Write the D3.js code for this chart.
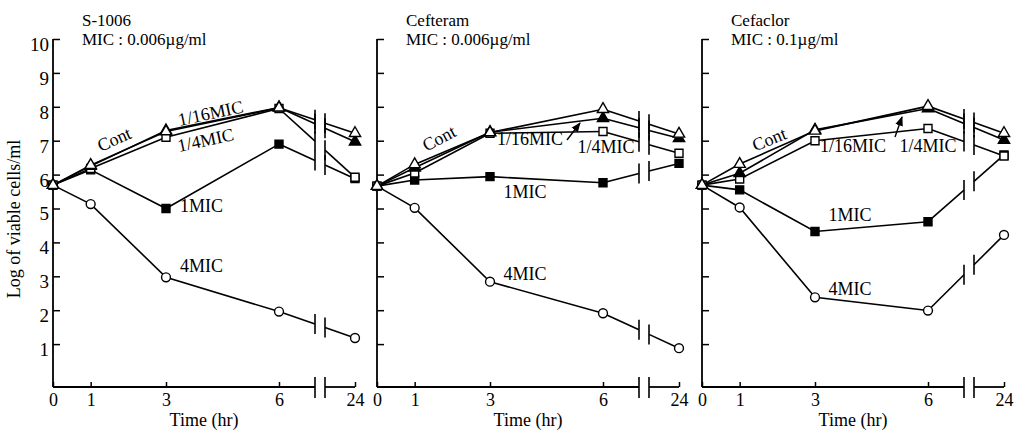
<!DOCTYPE html>
<html>
<head>
<meta charset="utf-8">
<script src="https://cdn.jsdelivr.net/npm/d3@7"></script>
<style>
  body { margin: 0; background: #fff; }
  text { font-family: "Liberation Serif", "Times New Roman", serif; }
</style>
</head>
<body>
<script>
// time points (hr) and y ticks
var hours = [0, 1, 3, 6, 24];
var yTicks = [1, 2, 3, 4, 5, 6, 7, 8, 9, 10];
var seriesNames = ["Cont", "1/16MIC", "1/4MIC", "1MIC", "4MIC"];

// S-1006
var s1006Cont  = [5.69, 6.28, 7.27, 7.97, 7.22];
var s1006Q16   = [5.69, 6.25, 7.30, 7.98, 6.97];
var s1006Q4    = [5.69, 6.18, 7.10, 7.95, 5.92];
var s1006One   = [5.69, 6.14, 5.00, 6.90, 5.88];
var s1006Four  = [5.69, 5.13, 2.97, 1.96, 1.18];

// Cefteram
var cefteramCont = [5.66, 6.30, 7.24, 7.93, 7.20];
var cefteramQ16  = [5.66, 6.20, 7.25, 7.66, 7.07];
var cefteramQ4   = [5.66, 6.05, 7.22, 7.27, 6.63];
var cefteramOne  = [5.66, 5.84, 5.94, 5.76, 6.33];
var cefteramFour = [5.66, 5.02, 2.84, 1.91, 0.88];

// Cefaclor
var cefaclorCont = [5.69, 6.31, 7.29, 8.02, 7.22];
var cefaclorQ16  = [5.69, 6.04, 7.32, 7.95, 7.02];
var cefaclorQ4   = [5.69, 5.87, 7.00, 7.36, 6.55];
var cefaclorOne  = [5.69, 5.55, 4.32, 4.61, 6.58];
var cefaclorFour = [5.69, 5.03, 2.38, 1.99, 4.22];

var panels = [
  {title: "S-1006", mic: "MIC : 0.006\u00b5g/ml", ox: 53,
   data: [s1006Cont, s1006Q16, s1006Q4, s1006One, s1006Four],
   labels: [
     {t: "Cont", x: 62, y: 141, r: -24, a: "middle"},
     {t: "1/16MIC", x: 158, y: 115, r: -12, a: "middle"},
     {t: "1/4MIC", x: 153, y: 142, r: -12, a: "middle"},
     {t: "1MIC", x: 127, y: 208, r: 0, a: "start"},
     {t: "4MIC", x: 127, y: 268, r: 0, a: "start"}
   ], arrow: null},
  {title: "Cefteram", mic: "MIC : 0.006\u00b5g/ml", ox: 377,
   data: [cefteramCont, cefteramQ16, cefteramQ4, cefteramOne, cefteramFour],
   labels: [
     {t: "Cont", x: 63, y: 140, r: -28, a: "middle"},
     {t: "1/16MIC", x: 153, y: 141, r: 0, a: "middle"},
     {t: "1/4MIC", x: 229, y: 149, r: 0, a: "middle"},
     {t: "1MIC", x: 148, y: 194, r: 0, a: "middle"},
     {t: "4MIC", x: 148, y: 276, r: 0, a: "middle"}
   ], arrow: [190, 140, 203, 123]},
  {title: "Cefaclor", mic: "MIC : 0.1\u00b5g/ml", ox: 702,
   data: [cefaclorCont, cefaclorQ16, cefaclorQ4, cefaclorOne, cefaclorFour],
   labels: [
     {t: "Cont", x: 68, y: 141, r: -22, a: "middle"},
     {t: "1/16MIC", x: 151, y: 148, r: 0, a: "middle"},
     {t: "1/4MIC", x: 226, y: 148, r: 0, a: "middle"},
     {t: "1MIC", x: 148, y: 217, r: 0, a: "middle"},
     {t: "4MIC", x: 148, y: 291, r: 0, a: "middle"}
   ], arrow: [193, 137, 200, 117]}
];

var width = 1023, height = 434;
var yBottom = 387;
var breakL = 262, breakR = 272;

var svg = d3.select("body").append("svg")
  .attr("width", width)
  .attr("height", height);

svg.append("defs").append("marker")
  .attr("id", "arrowhead")
  .attr("viewBox", "0 0 10 10")
  .attr("refX", 9).attr("refY", 5)
  .attr("markerWidth", 7).attr("markerHeight", 7)
  .attr("orient", "auto")
  .append("path").attr("d", "M0,1L10,5L0,9Z").attr("fill", "#000");

var y = d3.scaleLinear().domain([0, 10]).range([378, 39]);
var x = d3.scaleLinear().domain([0, 6, 24]).range([0, 226, 302]);

// marker shape per series: Cont open tri, 1/16 filled tri, 1/4 open sq, 1MIC filled sq, 4MIC open circle
var shapes = [
  {type: d3.symbolTriangle, size: 55, fill: "#fff"},
  {type: d3.symbolTriangle, size: 55, fill: "#000"},
  {type: d3.symbolSquare, size: 64, fill: "#fff"},
  {type: d3.symbolSquare, size: 64, fill: "#000"},
  {type: d3.symbolCircle, size: 62, fill: "#fff"}
];

// y axis title
svg.append("text")
  .attr("transform", "translate(16,219) rotate(-90)")
  .attr("text-anchor", "middle")
  .attr("dominant-baseline", "middle")
  .attr("font-size", 18)
  .text("Log of viable cells/ml");

panels.forEach(function(p, i) {
  var g = svg.append("g").attr("transform", "translate(" + p.ox + ",0)");

  g.append("text").attr("x", 29).attr("y", 26).attr("font-size", 17).text(p.title);
  g.append("text").attr("x", 29).attr("y", 45).attr("font-size", 17).text(p.mic);

  // y axis
  var ya = g.append("g")
    .call(d3.axisLeft(y).tickValues(yTicks).tickSize(-7).tickSizeOuter(0).tickPadding(4)
      .tickFormat(i === 0 ? d3.format("d") : function() { return ""; }));
  ya.select(".domain").remove();
  ya.attr("font-family", null).attr("font-size", null);
  ya.selectAll("text").attr("font-size", 19).attr("dy", "0.6em");
  ya.selectAll("line").attr("stroke-width", 1.5);
  g.append("line").attr("x1", 0).attr("x2", 0).attr("y1", y(10)).attr("y2", yBottom)
    .attr("stroke", "#000").attr("stroke-width", 1.8);

  // x axis
  var xa = g.append("g").attr("transform", "translate(0," + yBottom + ")")
    .call(d3.axisBottom(x).tickValues(hours).tickSize(-5).tickPadding(6));
  xa.select(".domain").remove();
  xa.attr("font-family", null).attr("font-size", null);
  xa.selectAll("text").attr("font-size", 18);
  xa.selectAll("line").attr("stroke-width", 1.5);
  [[0, breakL], [breakR, x(24)]].forEach(function(s) {
    g.append("line").attr("x1", s[0]).attr("x2", s[1]).attr("y1", yBottom).attr("y2", yBottom)
      .attr("stroke", "#000").attr("stroke-width", 1.8);
  });
  [breakL, breakR].forEach(function(bx) {
    g.append("line").attr("x1", bx).attr("x2", bx).attr("y1", yBottom - 10).attr("y2", yBottom + 11)
      .attr("stroke", "#000").attr("stroke-width", 1.6);
  });
  g.append("text").attr("x", 151).attr("y", 426)
    .attr("text-anchor", "middle").attr("font-size", 18).text("Time (hr)");

  var line = d3.line();

  // lines with break between 6 and 24 hr
  p.data.forEach(function(vals) {
    var pts = hours.map(function(h, j) { return [x(h), y(vals[j])]; });
    g.append("path").attr("d", line(pts.slice(0, 4)))
      .attr("fill", "none").attr("stroke", "#000").attr("stroke-width", 1.6);
    var p6 = pts[3], p24 = pts[4];
    var iy = d3.interpolateNumber(p6[1], p24[1]);
    var yl = iy((breakL - p6[0]) / (p24[0] - p6[0]));
    var yr = iy((breakR - p6[0]) / (p24[0] - p6[0]));
    g.append("path").attr("d", line([p6, [breakL, yl]]))
      .attr("fill", "none").attr("stroke", "#000").attr("stroke-width", 1.6);
    g.append("path").attr("d", line([[breakR, yr], p24]))
      .attr("fill", "none").attr("stroke", "#000").attr("stroke-width", 1.6);
    g.append("line").attr("x1", breakL).attr("x2", breakL).attr("y1", yl - 10).attr("y2", yl + 10)
      .attr("stroke", "#000").attr("stroke-width", 1.6);
    g.append("line").attr("x1", breakR).attr("x2", breakR).attr("y1", yr - 10).attr("y2", yr + 10)
      .attr("stroke", "#000").attr("stroke-width", 1.6);
  });

  // markers, Cont drawn last
  d3.range(p.data.length - 1, -1, -1).forEach(function(k) {
    var s = shapes[k];
    g.selectAll(null).data(hours.map(function(h, j) { return [h, p.data[k][j]]; }))
      .enter().append("path")
      .attr("d", d3.symbol().type(s.type).size(s.size))
      .attr("transform", function(d) { return "translate(" + x(d[0]) + "," + y(d[1]) + ")"; })
      .attr("fill", s.fill).attr("stroke", "#000").attr("stroke-width", 1.4);
  });

  // series labels
  p.labels.forEach(function(l) {
    g.append("text")
      .attr("transform", "translate(" + l.x + "," + l.y + ") rotate(" + l.r + ")")
      .attr("text-anchor", l.a)
      .attr("dominant-baseline", "middle")
      .attr("font-size", 18)
      .text(l.t);
  });

  if (p.arrow) {
    g.append("line")
      .attr("x1", p.arrow[0]).attr("y1", p.arrow[1])
      .attr("x2", p.arrow[2]).attr("y2", p.arrow[3])
      .attr("stroke", "#000").attr("stroke-width", 1.4)
      .attr("marker-end", "url(#arrowhead)");
  }
});
</script>
</body>
</html>
